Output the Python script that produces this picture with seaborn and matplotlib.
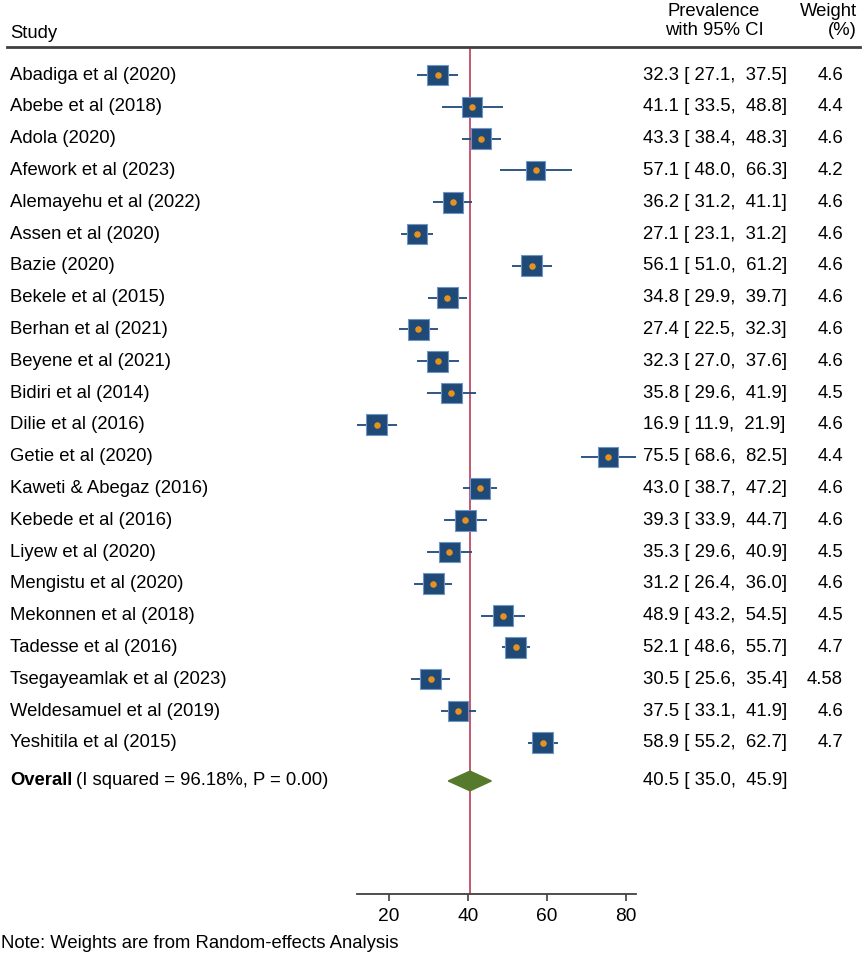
import numpy as np
import pandas as pd
import seaborn as sns
import matplotlib.pyplot as plt
from matplotlib.patches import Polygon
from matplotlib.transforms import blended_transform_factory

# Data
studies = ['Abadiga et al (2020)', 'Abebe et al (2018)', 'Adola (2020)',
           'Afework et al (2023)', 'Alemayehu et al (2022)', 'Assen et al (2020)',
           'Bazie (2020)', 'Bekele et al (2015)', 'Berhan et al (2021)',
           'Beyene et al (2021)', 'Bidiri et al (2014)', 'Dilie et al (2016)',
           'Getie et al (2020)', 'Kaweti & Abegaz (2016)', 'Kebede et al (2016)',
           'Liyew et al (2020)', 'Mengistu et al (2020)', 'Mekonnen et al (2018)',
           'Tadesse et al (2016)', 'Tsegayeamlak et al (2023)',
           'Weldesamuel et al (2019)', 'Yeshitila et al (2015)']
est = [32.3, 41.1, 43.3, 57.1, 36.2, 27.1, 56.1, 34.8, 27.4, 32.3, 35.8,
       16.9, 75.5, 43.0, 39.3, 35.3, 31.2, 48.9, 52.1, 30.5, 37.5, 58.9]
lo = [27.1, 33.5, 38.4, 48.0, 31.2, 23.1, 51.0, 29.9, 22.5, 27.0, 29.6,
      11.9, 68.6, 38.7, 33.9, 29.6, 26.4, 43.2, 48.6, 25.6, 33.1, 55.2]
hi = [37.5, 48.8, 48.3, 66.3, 41.1, 31.2, 61.2, 39.7, 32.3, 37.6, 41.9,
      21.9, 82.5, 47.2, 44.7, 40.9, 36.0, 54.5, 55.7, 35.4, 41.9, 62.7]
weights = [4.6, 4.4, 4.6, 4.2, 4.6, 4.6, 4.6, 4.6, 4.6, 4.6, 4.5,
           4.6, 4.4, 4.6, 4.6, 4.5, 4.6, 4.5, 4.7, 4.58, 4.6, 4.7]
overall_est, overall_lo, overall_hi = 40.5, 35.0, 45.9
xticks = [20, 40, 60, 80]

df = pd.DataFrame({'study': studies, 'est': est, 'lo': lo, 'hi': hi, 'weight': weights})
df['row'] = np.arange(len(df))
overall_row = len(df) + 0.2

plt.rcParams['font.family'] = ['Liberation Sans', 'DejaVu Sans']
fs = 13.3

fig = plt.figure(figsize=(8.67, 9.56), dpi=100)
W, H = 867, 956
ax = fig.add_axes([357 / W, 62 / H, (636 - 357) / W, (894 - 47) / H])

# CI lines
ax.hlines(df['row'], df['lo'], df['hi'], color='#1f4a78', lw=1.3, zorder=2)

# weighted boxes
wmin, wmax = min(weights), max(weights)
sns.scatterplot(data=df, x='est', y='row', size='weight',
                sizes=(220 * wmin / 4.6, 220 * wmax / 4.6), marker='s',
                color='#1f4a78', edgecolor='#7096c8', linewidth=0.8,
                legend=False, ax=ax, zorder=3)
# point estimates
sns.scatterplot(data=df, x='est', y='row', color='#e8921e', s=22,
                linewidth=0, legend=False, ax=ax, zorder=4)

# overall diamond
d = 0.31
ax.add_patch(Polygon([(overall_lo, overall_row), (overall_est, overall_row - d),
                      (overall_hi, overall_row), (overall_est, overall_row + d)],
                     closed=True, color='#557a2c', zorder=3))

# reference line
ax.axvline(overall_est, color='#c24a66', lw=1.3, zorder=1)

ax.set_xlim(11.9, 82.5)
ax.set_ylim((894 - 75) / 31.8, -(75 - 47) / 31.8)
ax.set_xticks(xticks)
ax.set_xticklabels([str(t) for t in xticks], fontsize=fs + 0.5)
ax.set_yticks([])
ax.set_xlabel('')
ax.set_ylabel('')
for s in ['top', 'right', 'left']:
    ax.spines[s].set_visible(False)
ax.spines['bottom'].set_color('#404040')
ax.spines['bottom'].set_linewidth(1.3)
ax.tick_params(axis='x', length=5, width=1.2, color='#404040', pad=5)
ax.patch.set_alpha(0)

# text columns
tr = blended_transform_factory(fig.transFigure, ax.transData)
for _, r in df.iterrows():
    ax.text(10 / W, r['row'], r['study'], transform=tr, fontsize=fs,
            va='center', ha='left', clip_on=False)
    ax.text(643 / W, r['row'], '%.1f [ %.1f,  %.1f]' % (r['est'], r['lo'], r['hi']),
            transform=tr, fontsize=fs, va='center', ha='left', clip_on=False)
    ax.text(843 / W, r['row'], str(r['weight']), transform=tr, fontsize=fs,
            va='center', ha='right', clip_on=False)

t1 = ax.text(10 / W, overall_row, 'Overall', transform=tr, fontsize=fs,
             fontweight='bold', va='center', ha='left', clip_on=False)
fig.canvas.draw()
bb = t1.get_window_extent(fig.canvas.get_renderer())
ax.text(bb.x1 / W + 4 / W, overall_row, '(I squared = 96.18%, P = 0.00)',
        transform=tr, fontsize=fs, va='center', ha='left', clip_on=False)
ax.text(643 / W, overall_row, '%.1f [ %.1f,  %.1f]' % (overall_est, overall_lo, overall_hi),
        transform=tr, fontsize=fs, va='center', ha='left', clip_on=False)

# headers
fig.text(10 / W, 1 - 34 / H, 'Study', fontsize=fs, va='center', ha='left')
fig.text(714 / W, 1 - 21 / H, 'Prevalence\nwith 95% CI', fontsize=fs,
         va='center', ha='center', multialignment='center', linespacing=1.2)
fig.text(857 / W, 1 - 21 / H, 'Weight\n(%)', fontsize=fs,
         va='center', ha='right', multialignment='right', linespacing=1.2)
fig.add_artist(plt.Line2D([7 / W, 860 / W], [1 - 47 / H, 1 - 47 / H],
                          color='#404040', lw=2))

fig.text(1 / W, 1 - 943 / H, 'Note: Weights are from Random-effects Analysis',
         fontsize=fs, va='center', ha='left')

fig.savefig('out.png', dpi=100)
